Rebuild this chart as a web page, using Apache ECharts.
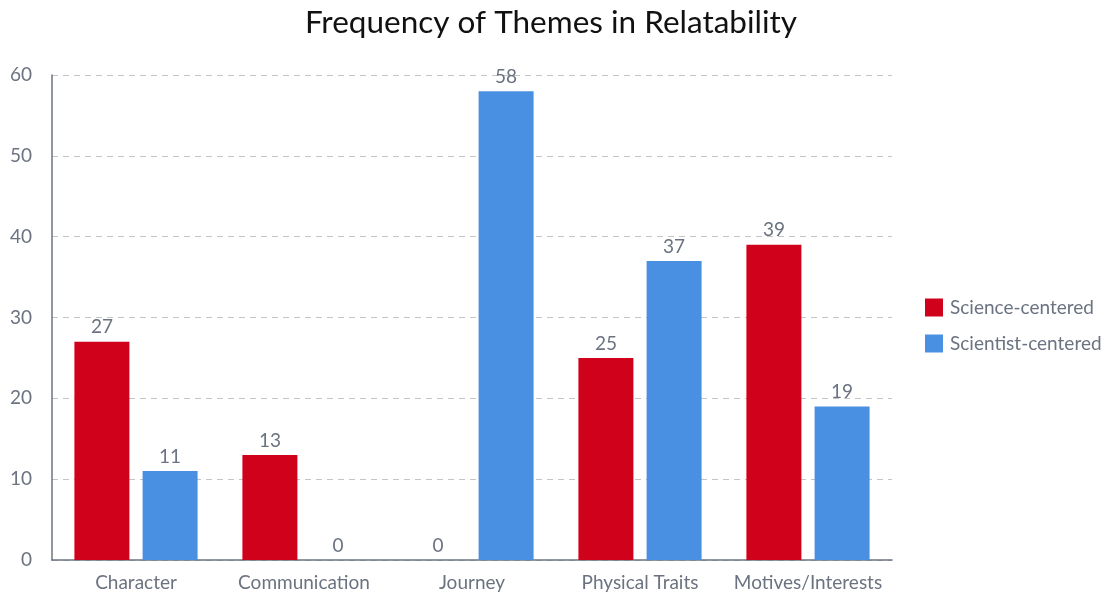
<!DOCTYPE html>
<html>
<head>
<meta charset="utf-8">
<script src="https://cdn.jsdelivr.net/npm/echarts@6/dist/echarts.min.js"></script>
<style>
  html, body { margin: 0; padding: 0; background: #fff; }
  #chart { width: 1102px; height: 596px; }
</style>
</head>
<body>
<div id="chart"></div>
<script>
// Theme frequencies for the two framing groups
const categories = ['Character', 'Communication', 'Journey', 'Physical Traits', 'Motives/Interests'];
const scienceCentered = [27, 13, 0, 25, 39];
const scientistCentered = [11, 0, 58, 37, 19];
const seriesNames = ['Science-centered', 'Scientist-centered'];

const FONT = 'Lato, "Open Sans", sans-serif';
const GREY_TEXT = '#6b7380';

const chart = echarts.init(document.getElementById('chart'), null, { renderer: 'canvas' });

const labelStyle = {
  show: true,
  position: 'top',
  distance: 5,
  color: GREY_TEXT,
  fontFamily: FONT,
  fontSize: 19
};

chart.setOption({
  animation: false,
  title: {
    text: 'Frequency of Themes in Relatability',
    left: 'center',
    top: 2,
    textStyle: { fontFamily: FONT, fontSize: 31.5, fontWeight: 'normal', color: '#111' }
  },
  legend: {
    orient: 'vertical',
    left: 920,
    top: 293,
    itemWidth: 18,
    itemHeight: 18,
    itemGap: 17,
    icon: 'rect',
    textStyle: { fontFamily: FONT, fontSize: 19, color: GREY_TEXT, padding: [0, 0, 0, 2] },
    data: seriesNames
  },
  grid: { left: 52, right: 210, top: 75, bottom: 36 },
  xAxis: {
    type: 'category',
    data: categories,
    axisLine: { lineStyle: { color: '#6b7480', width: 1.5 } },
    axisTick: { show: false },
    axisLabel: { color: GREY_TEXT, fontFamily: FONT, fontSize: 19, margin: 13, interval: 0 }
  },
  yAxis: {
    type: 'value',
    min: 0,
    max: 60,
    interval: 10,
    axisLine: { show: true, lineStyle: { color: '#6b7480', width: 1.5 } },
    axisTick: { show: false },
    axisLabel: { color: GREY_TEXT, fontFamily: FONT, fontSize: 19, margin: 20 },
    splitLine: { lineStyle: { color: '#c4c4c4', type: [6, 5], width: 1.2 } }
  },
  series: [
    {
      name: seriesNames[0],
      type: 'bar',
      data: scienceCentered,
      barWidth: 55,
      barGap: '24%',
      itemStyle: { color: '#d0021b' },
      label: labelStyle
    },
    {
      name: seriesNames[1],
      type: 'bar',
      data: scientistCentered,
      barWidth: 55,
      itemStyle: { color: '#4a90e2' },
      label: labelStyle
    }
  ]
});
</script>
</body>
</html>
